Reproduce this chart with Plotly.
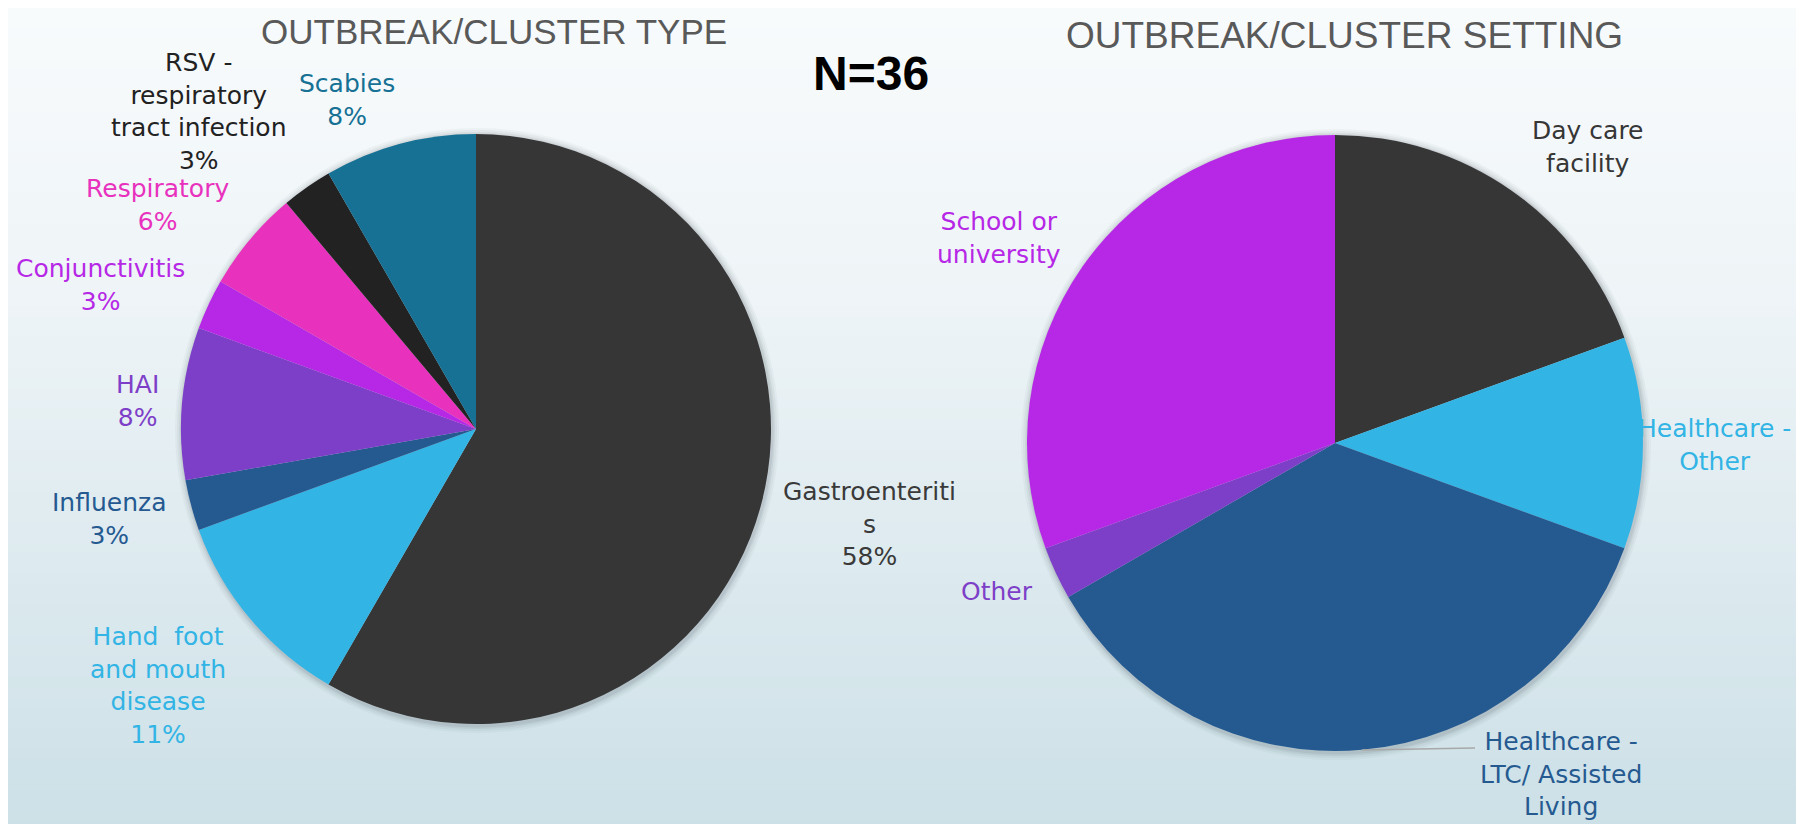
import plotly.graph_objects as go

W, H = 1804, 824

# ---------------- data ----------------
type_labels = ["Gastroenteritis", "Hand foot and mouth disease", "Influenza", "HAI",
               "Conjunctivitis", "Respiratory", "RSV - respiratory tract infection", "Scabies"]
type_display = ["Gastroenteriti<br>s", "Hand  foot<br>and mouth<br>disease", "Influenza", "HAI",
                "Conjunctivitis", "Respiratory", "RSV -<br>respiratory<br>tract infection", "Scabies"]
type_values = [21, 4, 1, 3, 1, 2, 1, 3]
type_colors = ["#363636", "#32B4E5", "#255A91", "#7E3FC8", "#B628E6", "#E832BE", "#222222", "#167195"]
type_text_colors = ["#3a3a3a", "#32B4E5", "#255A91", "#7E3FC8", "#B628E6", "#E832BE", "#222222", "#167195"]

setting_labels = ["Day care facility", "Healthcare - Other", "Healthcare - LTC/ Assisted Living",
                  "Other", "School or university"]
setting_display = ["Day care<br>facility", "Healthcare -<br>Other", "Healthcare -<br>LTC/ Assisted<br>Living",
                   "Other", "School or<br>university"]
setting_values = [7, 4, 13, 1, 11]
setting_colors = ["#363636", "#32B4E5", "#255A91", "#7E3FC8", "#B628E6"]
setting_text_colors = ["#363636", "#32B4E5", "#255A91", "#7E3FC8", "#B628E6"]

titles = ["OUTBREAK/CLUSTER TYPE", "OUTBREAK/CLUSTER SETTING"]
n_total = sum(type_values)

# ---------------- layout helpers (page pixel -> paper; page body has an 8px margin) ----------------
OFF = 8

def px(x):
    return (x - OFF) / W

def py(y):
    return 1 - (y - OFF) / H

left_c, left_r = (476, 429), 295
right_c, right_r = (1335, 443), 308

def dom(c, r):
    return dict(x=[px(c[0] - r), px(c[0] + r)], y=[py(c[1] + r), py(c[1] - r)])

fig = go.Figure()
fig.add_trace(go.Pie(
    labels=type_labels, values=type_values, sort=False, direction="clockwise", rotation=0,
    marker=dict(colors=type_colors, line=dict(width=0)),
    textinfo="none", hoverinfo="label+percent", domain=dom(left_c, left_r), showlegend=False))
fig.add_trace(go.Pie(
    labels=setting_labels, values=setting_values, sort=False, direction="clockwise", rotation=0,
    marker=dict(colors=setting_colors, line=dict(width=0)),
    textinfo="none", hoverinfo="label+percent", domain=dom(right_c, right_r), showlegend=False))

shapes = []
# background gradient
stops = [(0.0, (248, 251, 252)), (0.35, (238, 244, 247)), (1.0, (204, 224, 231))]
def grad(t):
    for (t0, c0), (t1, c1) in zip(stops[:-1], stops[1:]):
        if t0 <= t <= t1:
            f = (t - t0) / (t1 - t0)
            return tuple(round(c0[i] + (c1[i] - c0[i]) * f) for i in range(3))
    return stops[-1][1]
nb = 80
for i in range(nb):
    c = grad((i + 0.5) / nb)
    shapes.append(dict(type="rect", xref="paper", yref="paper", x0=0, x1=1,
                       y0=1 - (i + 1) / nb - 0.001, y1=1 - i / nb + 0.001,
                       fillcolor="rgb(%d,%d,%d)" % c, line=dict(width=0), layer="below"))
# soft shadow behind pies
for (c, r) in [(left_c, left_r), (right_c, right_r)]:
    for k, op in [(7, 0.04), (5, 0.05), (3, 0.07), (1.5, 0.08)]:
        shapes.append(dict(type="circle", xref="paper", yref="paper",
                           x0=px(c[0] - r - k + 1), x1=px(c[0] + r + k + 1),
                           y0=py(c[1] + r + k + 2), y1=py(c[1] - r - k + 1),
                           fillcolor="rgba(60,70,80,%.3f)" % op, line=dict(width=0), layer="below"))
# leader line for LTC label
shapes.append(dict(type="line", xref="paper", yref="paper", x0=px(1362), y0=py(750),
                   x1=px(1475), y1=py(748), line=dict(color="#A8A8A8", width=1.5)))

label_font = "DejaVu Sans, Verdana, sans-serif"
ann = []
type_pos = [(869, 524), (158, 685), (109, 519), (137, 401), (100, 285), (157, 205), (199, 112), (347, 100)]
for lab, v, col, (x, y) in zip(type_display, type_values, type_text_colors, type_pos):
    pct = round(v / n_total * 100)
    ann.append(dict(x=px(x), y=py(y), xref="paper", yref="paper", showarrow=False,
                    text="%s<br>%d%%" % (lab, pct), align="center", xanchor="center", yanchor="middle",
                    font=dict(family=label_font, size=25, color=col)))
setting_pos = [(1588, 147), (1714, 445), (1561, 774), (997, 591), (999, 238)]
for lab, col, (x, y) in zip(setting_display, setting_text_colors, setting_pos):
    ann.append(dict(x=px(x), y=py(y), xref="paper", yref="paper", showarrow=False,
                    text=lab, align="center", xanchor="center", yanchor="middle",
                    font=dict(family=label_font, size=25, color=col)))
# titles
title_font = "Liberation Sans, Arial, sans-serif"
for t, (x, y), s in zip(titles, [(494, 32), (1344, 36)], [35, 37]):
    ann.append(dict(x=px(x), y=py(y), xref="paper", yref="paper", showarrow=False, text=t,
                    xanchor="center", yanchor="middle",
                    font=dict(family=title_font, size=s, color="#595959")))
ann.append(dict(x=px(871), y=py(74), xref="paper", yref="paper", showarrow=False,
                text="N=%d" % n_total, xanchor="center", yanchor="middle",
                font=dict(family="Liberation Sans, Arial, sans-serif", size=48, color="#000000", weight="bold")))

fig.update_layout(width=W, height=H, margin=dict(l=0, r=0, t=0, b=0),
                  paper_bgcolor="#EEF4F7", plot_bgcolor="rgba(0,0,0,0)",
                  shapes=shapes, annotations=ann, showlegend=False)
fig.write_html("out.html")
